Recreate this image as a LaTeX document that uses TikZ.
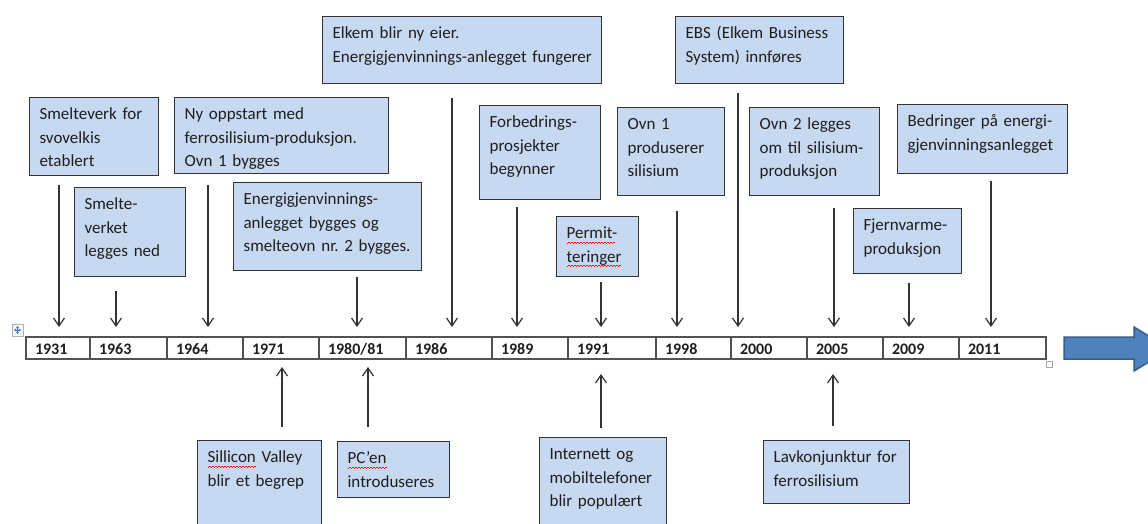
\documentclass[tikz,border=0pt]{standalone}
\usepackage{fontspec}
\setmainfont{Carlito}
\usetikzlibrary{arrows.meta,positioning}
\definecolor{boxbg}{HTML}{C6D9F1}
\definecolor{boxln}{HTML}{333333}
\definecolor{txt}{HTML}{1E1E1E}
\definecolor{bluearr}{HTML}{4F81BD}
\definecolor{bluearrln}{HTML}{385D8A}
\definecolor{handle}{HTML}{2E6FD8}
\newcommand{\evfont}{\fontsize{17}{23.5}\selectfont}
\newcommand{\redwave}[1]{\leavevmode\setbox0\hbox{#1}%
  \rlap{\raisebox{-4pt}[0pt][0pt]{\hbox to \wd0{\color{red}%
  \leaders\hbox to 3pt{\rule[-0.8pt]{1.5pt}{0.8pt}\rule{1.5pt}{0.8pt}}\hfill}}}\box0\relax}
\tikzset{
  ev/.style 2 args ={draw=boxln,fill=boxbg,line width=1.2pt,anchor=north west,
                     align=left,font=\evfont,text=txt,inner xsep=10pt,inner ysep=0pt,
                     text width=#1,text height=22pt,text depth=#2},
  yr/.style ={draw=boxln!85,line width=1.2pt,anchor=north west,align=left,outer sep=0pt,
              font=\fontsize{16}{18}\selectfont\bfseries,text=txt,inner xsep=9pt,
              inner ysep=0pt,text width=#1,text height=17pt,text depth=5pt},
  dn/.style ={draw=boxln,line width=1.2pt,-{Straight Barb[length=8pt,width=11pt]},shorten >=10pt},
  up/.style ={draw=boxln,line width=1.2pt,-{Straight Barb[length=8pt,width=11pt]}},
}

\begin{document}
\begin{tikzpicture}[x=1pt,y=-1pt]
\useasboundingbox (0,0) rectangle (1148,523);
\clip (0,0) rectangle (1148,523);
% timeline row
\node[yr=46pt] (c1931) at (26,337) {1931};
\node[yr=59pt,right=0pt of c1931] (c1963) {1963};
\node[yr=58pt,right=0pt of c1963] (c1964) {1964};
\node[yr=58pt,right=0pt of c1964] (c1971) {1971};
\node[yr=69pt,right=0pt of c1971] (c1980) {1980/81};
\node[yr=68pt,right=0pt of c1980] (c1986) {1986};
\node[yr=58pt,right=0pt of c1986] (c1989) {1989};
\node[yr=70pt,right=0pt of c1989] (c1991) {1991};
\node[yr=57pt,right=0pt of c1991] (c1998) {1998};
\node[yr=58pt,right=0pt of c1998] (c2000) {2000};
\node[yr=58pt,right=0pt of c2000] (c2005) {2005};
\node[yr=58pt,right=0pt of c2005] (c2009) {2009};
\node[yr=69pt,right=0pt of c2009] (c2011) {2011};
% table handles
\draw[gray!60,fill=gray!8,line width=0.8pt] (12,324) rectangle (23,336);
\draw[handle,line width=0.8pt,{Latex[length=2pt,width=3pt]}-{Latex[length=2pt,width=3pt]}] (14,330) -- (21,330);
\draw[handle,line width=0.8pt,{Latex[length=2pt,width=3pt]}-{Latex[length=2pt,width=3pt]}] (17.5,326) -- (17.5,334);
\draw[gray!70,fill=white,line width=0.8pt] (1046,361) rectangle (1052,367);
% events above
\node[ev={109pt}{56pt}] (b1931) at (29,97) {Smelteverk for\\svovelkis\\etablert};
\node[ev={91pt}{67pt}] (b1963) at (74,187) {Smelte-\\verket\\legges ned};
\node[ev={194pt}{54pt}] (b1964) at (174,97) {Ny oppstart med\\\mbox{ferrosilisium-produksjon.}\\Ovn 1 bygges};
\node[ev={168pt}{66pt}] (b1980) at (233,182) {Energigjenvinnings-\\anlegget bygges og\\\mbox{smelteovn nr.\ 2 bygges.}};
\node[ev={259pt}{45pt}] (b1986) at (322,16) {Elkem blir ny eier.\\\mbox{Energigjenvinnings-anlegget fungerer}};
\node[ev={101pt}{72pt}] (b1989) at (479,105) {Forbedrings-\\prosjekter\\begynner};
\node[ev={62pt}{38pt}] (b1991) at (556,216) {\redwave{Permit-}\\\redwave{teringer}};
\node[ev={87pt}{66pt}] (b1998) at (617,107) {Ovn 1\\produserer\\silisium};
\node[ev={148pt}{45pt}] (b2000) at (675,16) {\mbox{EBS (Elkem Business}\\System) innføres};
\node[ev={110pt}{66pt}] (b2005) at (749,107) {Ovn 2 legges\\\mbox{om til silisium-}\\produksjon};
\node[ev={88pt}{43pt}] (b2009) at (853,208) {Fjernvarme-\\produksjon};
\node[ev={150pt}{47pt}] (b2011) at (897,104) {\mbox{Bedringer på energi-}\\gjenvinningsanlegget};
% events below
\node[ev={104pt}{70pt}] (s1971) at (197,440) {\redwave{Sillicon} Valley\\blir et begrep};
\node[ev={92pt}{34pt}] (s1980) at (337,441) {\redwave{PC’en}\\introduseres};
\node[ev={107pt}{73pt}] (s1991) at (539,437) {Internett og\\mobiltelefoner\\blir populært};
\node[ev={126pt}{41pt}] (s2005) at (763,440) {\mbox{Lavkonjunktur for}\\ferrosilisium};
% arrow tails
\coordinate (t1931) at (59,185);
\coordinate (t1963) at (116,291);
\coordinate (t1964) at (208,185);
\coordinate (t1980) at (357,277);
\coordinate (t1986) at (452,98);
\coordinate (t1989) at (517,207);
\coordinate (t1991) at (601,282);
\coordinate (t1998) at (677,211);
\coordinate (t2000) at (738,93);
\coordinate (t2005) at (834,208);
\coordinate (t2009) at (909,283);
\coordinate (t2011) at (991,181);
\coordinate (u1971) at (282,427);
\coordinate (u1980) at (368,427);
\coordinate (u1991) at (601,428);
\coordinate (u2005) at (833,426);
\draw[dn] (t1931) -- (t1931 |- c1931.north);
\draw[dn] (t1963) -- (t1963 |- c1963.north);
\draw[dn] (t1964) -- (t1964 |- c1964.north);
\draw[dn] (t1980) -- (t1980 |- c1980.north);
\draw[dn] (t1986) -- (t1986 |- c1986.north);
\draw[dn] (t1989) -- (t1989 |- c1989.north);
\draw[dn] (t1991) -- (t1991 |- c1991.north);
\draw[dn] (t1998) -- (t1998 |- c1998.north);
\draw[dn] (t2000) -- (t2000 |- c2000.north);
\draw[dn] (t2005) -- (t2005 |- c2005.north);
\draw[dn] (t2009) -- (t2009 |- c2009.north);
\draw[dn] (t2011) -- (t2011 |- c2011.north);
\draw[up,shorten >=8pt] (u1971) -- (u1971 |- c1971.south);
\draw[up,shorten >=8pt] (u1980) -- (u1980 |- c1980.south);
\draw[up,shorten >=15pt] (u1991) -- (u1991 |- c1991.south);
\draw[up,shorten >=15pt] (u2005) -- (u2005 |- c2005.south);
% big arrow
\draw[bluearrln,fill=bluearr,line width=1.5pt] (1064,337) -- (1134,337) -- (1134,327)
  -- (1170,349) -- (1134,371) -- (1134,359) -- (1064,359) -- cycle;
\end{tikzpicture}
\end{document}
